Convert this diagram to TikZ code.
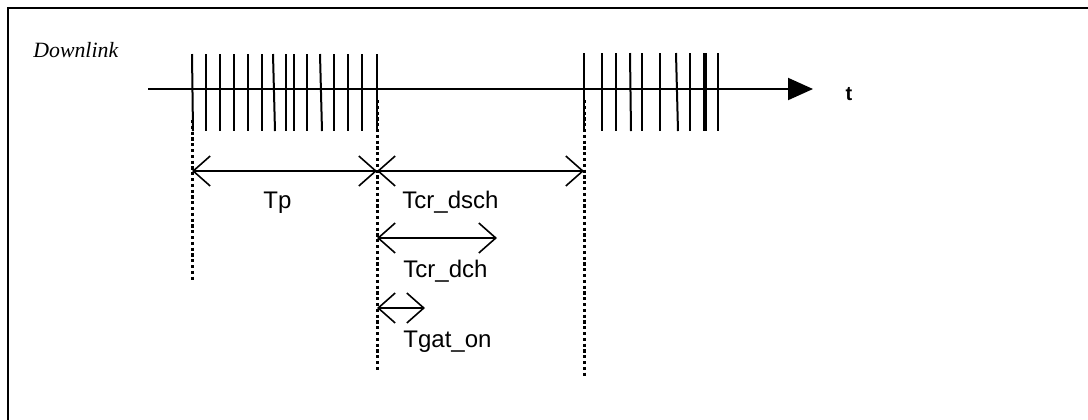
\documentclass[tikz,border=0pt]{standalone}
\usepackage{fontspec}
\setmainfont{Liberation Serif}
\setsansfont{Liberation Sans}
\usetikzlibrary{arrows.meta}

\tikzset{
  pulse/.style={line width=1pt},
  marker/.style={line width=1.5pt, dash pattern=on 1.6pt off 1.3pt},
  span/.style={line width=0.8pt,
    {Straight Barb[length=8.5pt,width=15pt]}-{Straight Barb[length=8.5pt,width=15pt]}},
  lbl/.style={font=\sffamily\fontsize{12}{14}\selectfont, anchor=base west, inner sep=0pt},
}

\begin{document}
\begin{tikzpicture}[x=0.5pt,y=-0.5pt]
            \useasboundingbox (0,0) rectangle (1088,419);

            % Define the frame
            \draw[line width=1.3pt] (1090,8) -- (8,8) -- (8,421);
            \node[font=\itshape\fontsize{10.9}{12}\selectfont, anchor=base west, inner sep=0pt] (dl) at (33,57) {Downlink};

            % Define the time axis
            \coordinate (t0) at (148,89);
            \coordinate (t1) at (813,89);
            \draw[line width=1pt, -{Triangle[length=12.5pt,width=11pt]}] (t0) -- (t1);
            \node[font=\sffamily\bfseries\fontsize{10}{12}\selectfont, inner sep=0pt] (tlab) at (849,94) {t};

            % Define the first burst
            \foreach \x/\s in {192/1,206/0,220/0,234/0,248/0,262/0,273/2,286/0,294/0,307/0,320/2,334/0,348/0,362/0,377/0}
              \draw[pulse] (\x,54) -- (\x+\s,131);

            % Define the second burst
            \foreach \x/\s in {584/0,602/0,616/0,630/1,642/0,660/0,676/2,690/0,704/0,706/0,718/0}
              \draw[pulse] (\x,53) -- (\x+\s,131);

            % Add dotted lines to indicate the timing
            \coordinate (m0a) at (192,120);
            \coordinate (m0b) at (192,280);
            \coordinate (m1a) at (377,100);
            \coordinate (m1b) at (377,372);
            \coordinate (m2a) at (584,100);
            \coordinate (m2b) at (584,378);
            \draw[marker] (m0a) -- (m0b);
            \draw[marker] (m1a) -- (m1b);
            \draw[marker] (m2a) -- (m2b);

            % Add the intervals
            \coordinate (p0) at (192,171);
            \coordinate (p1) at (377,171);
            \coordinate (p2) at (584,171);
            \coordinate (d0) at (377,238);
            \coordinate (d1) at (497,238);
            \coordinate (g0) at (377,308);
            \coordinate (g1) at (425,308);
            \draw[span] (p0) -- (p1);
            \draw[span] (p1) -- (p2);
            \draw[span] (d0) -- (d1);
            \draw[span] (g0) -- (g1);

            % Add labels for the intervals
            \node[lbl] (tp) at (263,208) {Tp};
            \node[lbl] (tdsch) at (402,208) {Tcr\_dsch};
            \node[lbl] (tdch) at (403,277) {Tcr\_dch};
            \node[lbl] (tgat) at (403,347) {Tgat\_on};
        \end{tikzpicture}
\end{document}
